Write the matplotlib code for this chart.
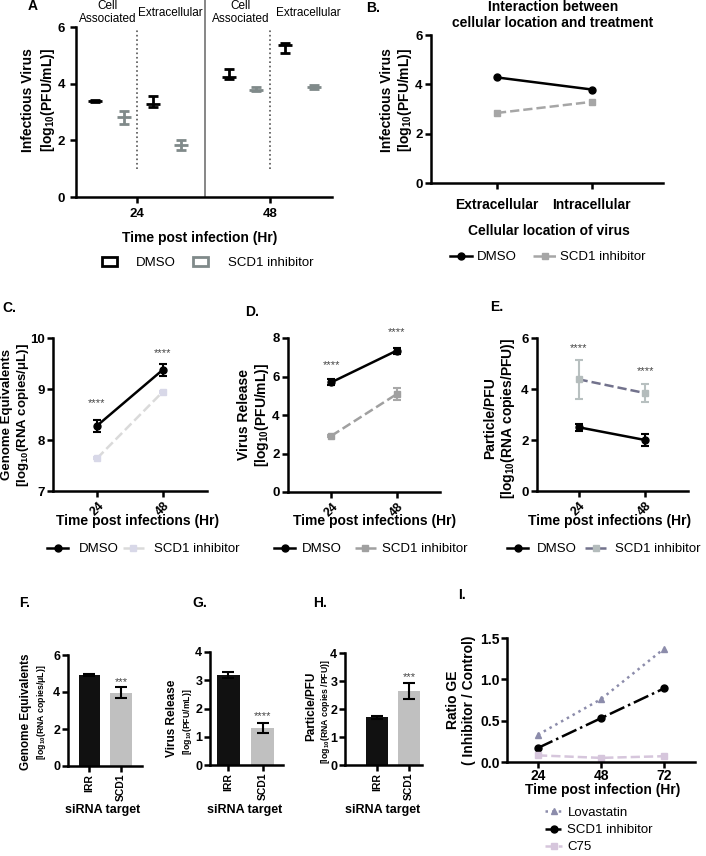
import matplotlib
matplotlib.use('Agg')
import matplotlib.pyplot as plt
from matplotlib.lines import Line2D
from matplotlib.patches import Patch

plt.rcParams['font.family'] = ['Liberation Sans', 'DejaVu Sans']
plt.rcParams['mathtext.fontset'] = 'custom'
plt.rcParams['mathtext.rm'] = 'Liberation Sans:bold'
plt.rcParams['mathtext.bf'] = 'Liberation Sans:bold'
plt.rcParams['mathtext.default'] = 'bf'

# ---------------- data ----------------
# A: infectious virus by location / time
a_headers = ['Cell\nAssociated', 'Extracellular', 'Cell\nAssociated', 'Extracellular']
a_header_x = [0.45, 2.6, 5.05, 7.4]
a_dmso_x = [0, 2, 4.65, 6.6]
a_scd1_x = [1, 3, 5.6, 7.6]
a_dmso = [3.40, 3.29, 4.22, 5.37]
a_dmso_lo = [3.35, 3.17, 4.17, 5.10]
a_dmso_hi = [3.42, 3.55, 4.52, 5.45]
a_scd1 = [2.82, 1.84, 3.78, 3.89]
a_scd1_lo = [2.56, 1.66, 3.73, 3.80]
a_scd1_hi = [3.05, 2.01, 3.88, 3.94]
a_time_x = [1.46, 6.08]
a_time_lab = ['24', '48']

# B: interaction plot
b_cats = ['Extracellular', 'Intracellular']
b_dmso = [4.28, 3.79]
b_scd1 = [2.84, 3.29]

# C-E: time courses
t_hr = [24, 48]
c_dmso, c_dmso_err = [8.28, 9.38], [0.12, 0.12]
c_scd1, c_scd1_err = [7.64, 8.95], [0.02, 0.02]
c_star_y = [8.73, 9.70]
d_dmso, d_dmso_err = [5.70, 7.34], [0.15, 0.15]
d_scd1, d_scd1_err = [2.92, 5.08], [0.05, 0.30]
d_star_y = [6.57, 8.30]
e_dmso, e_dmso_err = [2.50, 2.00], [0.13, 0.25]
e_scd1, e_scd1_err = [4.38, 3.84], [0.76, 0.34]
e_star_y = [5.60, 4.70]

# F-H: siRNA bars
si_cats = ['IRR', 'SCD1']
f_vals, f_err = [4.92, 3.97], [0.07, 0.32]
g_vals, g_err = [3.18, 1.30], [0.10, 0.17]
h_vals, h_err = [1.70, 2.64], [0.06, 0.28]
f_star, g_star, h_star = ('***', 4.56), ('****', 1.73), ('***', 3.13)

# I: ratio GE
i_hr = [24, 48, 72]
i_lova = [0.33, 0.76, 1.37]
i_scd1 = [0.17, 0.53, 0.89]
i_c75 = [0.08, 0.05, 0.07]

# ---------------- figure ----------------
W, H = 706, 856
fig = plt.figure(figsize=(W / 100, H / 100), dpi=100)


def add_ax(x0, y0, x1, y1):
    return fig.add_axes([x0 / W, 1 - y1 / H, (x1 - x0) / W, (y1 - y0) / H])


def ftext(x, y, s, **kw):
    kw.setdefault('ha', 'center')
    kw.setdefault('va', 'center')
    return fig.text(x / W, 1 - y / H, s, **kw)


def style(ax, fs=9.5, pad=2):
    for s in ['top', 'right']:
        ax.spines[s].set_visible(False)
    for s in ['left', 'bottom']:
        ax.spines[s].set_linewidth(1.8)
    ax.tick_params(direction='out', length=4, width=1.8, labelsize=fs, pad=pad)


def bold_ticks(ax):
    for t in ax.get_xticklabels() + ax.get_yticklabels():
        t.set_fontweight('bold')


def leg(handles, labels, x, y, ncol=2, loc='center left', **kw):
    fig.legend(handles, labels, loc=loc, bbox_to_anchor=(x / W, 1 - y / H),
               ncol=ncol, frameon=False, fontsize=9.5, borderaxespad=0,
               borderpad=0, **kw)


BF = dict(fontweight='bold', fontsize=10)
A_GRAY = '#808a8a'

# ---------------- A ----------------
axA = add_ax(76, 27, 332, 197)
style(axA, pad=4)
for xs, m, lo, hi, col in [(a_dmso_x, a_dmso, a_dmso_lo, a_dmso_hi, 'black'),
                           (a_scd1_x, a_scd1, a_scd1_lo, a_scd1_hi, A_GRAY)]:
    yerr = [[mm - l for mm, l in zip(m, lo)], [h - mm for mm, h in zip(m, hi)]]
    axA.errorbar(xs, m, yerr=yerr, fmt='_', ms=10, mew=2, capsize=3.5,
                 capthick=2, elinewidth=2, color=col, ls='none')
axA.set_xlim(-0.66, 8.23)
axA.set_ylim(0, 6)
axA.set_yticks([0, 2, 4, 6])
axA.set_xticks(a_time_x)
axA.set_xticklabels(a_time_lab)
bold_ticks(axA)
axA.plot([3.82, 3.82], [0, 6.95], color='#666666', lw=1.1, clip_on=False)
for xv in a_time_x:
    axA.plot([xv, xv], [1.0, 5.95], color='#555555', lw=1.2, ls=':', clip_on=False)
for xh, s in zip(a_header_x, a_headers):
    axA.text(xh, 6.5, s, ha='center', va='center', fontsize=8.5, clip_on=False,
             linespacing=1.1)
ftext(33, 6, 'A', **BF)
ftext(200, 238, 'Time post infection (Hr)', **BF)
ftext(39, 100, 'Infectious Virus\n[log$_{10}$(PFU/mL)]', rotation=90,
      linespacing=1.3, **BF)
leg([Patch(facecolor='white', edgecolor='black', lw=2),
     Patch(facecolor='white', edgecolor=A_GRAY, lw=2)],
    ['DMSO', 'SCD1 inhibitor'], 102, 263,
    handlelength=1.1, handleheight=0.75, handletextpad=1.5, columnspacing=1.3)

# ---------------- B ----------------
axB = add_ax(431, 35, 663, 183)
style(axB, pad=7)
axB.tick_params(axis='y', pad=2)
axB.plot([0, 1], b_dmso, 'o-', color='black', lw=1.8, ms=5)
axB.plot([0, 1], b_scd1, 's--', color='#a6a6a6', lw=1.8, ms=4.5)
axB.set_xlim(-0.695, 1.75)
axB.set_ylim(0, 6)
axB.set_yticks([0, 2, 4, 6])
axB.set_xticks([0, 1])
axB.set_xticklabels(b_cats)
bold_ticks(axB)
for t in axB.get_xticklabels():
    t.set_fontsize(10)
ftext(373, 8, 'B.', **BF)
ftext(553, 15, 'Interaction between\ncellular location and treatment',
      linespacing=1.15, **BF)
ftext(549, 231, 'Cellular location of virus', **BF)
ftext(397, 100, 'Infectious Virus\n[log$_{10}$(PFU/mL)]', rotation=90,
      linespacing=1.2, **BF)
leg([Line2D([], [], color='black', marker='o', lw=1.8, ms=5),
     Line2D([], [], color='#a6a6a6', marker='s', ls='--', lw=1.8, ms=4.5)],
    ['DMSO', 'SCD1 inhibitor'], 450, 257,
    handlelength=1.7, handletextpad=0.3, columnspacing=1.3)


# ---------------- C, D, E ----------------
def time_panel(box, xlim, ylim, yticks, dm, dm_e, sc, sc_e, stars,
               sc_line, sc_mark, sc_err):
    ax = add_ax(*box)
    style(ax, pad=2)
    ax.errorbar(t_hr, dm, yerr=dm_e, fmt='o-', color='black', lw=1.8, ms=5,
                capsize=3, capthick=1.5, elinewidth=1.5, zorder=4)
    ax.plot(t_hr, sc, ls='--', color=sc_line, lw=1.8, zorder=2)
    ax.errorbar(t_hr, sc, yerr=sc_e, fmt='s', color=sc_err, mfc=sc_mark,
                mec=sc_mark, ms=4.5, capsize=3, capthick=1.5, elinewidth=1.5,
                zorder=3)
    for xv, yv in zip(t_hr, stars):
        ax.text(xv, yv, '****', ha='center', va='center', fontsize=8,
                color='#444444', clip_on=False)
    ax.set_xlim(*xlim)
    ax.set_ylim(*ylim)
    ax.set_yticks(yticks)
    ax.set_xticks(t_hr)
    ax.set_xticklabels([str(t) for t in t_hr], rotation=45, fontsize=9)
    bold_ticks(ax)
    return ax


axC = time_panel((53, 338, 207, 491), (8, 64), (7, 10), [7, 8, 9, 10],
                 c_dmso, c_dmso_err, c_scd1, c_scd1_err, c_star_y,
                 '#dadada', '#d8d8e8', '#d8d8e8')
axD = time_panel((288, 338, 440, 492), (8, 64), (0, 8), [0, 2, 4, 6, 8],
                 d_dmso, d_dmso_err, d_scd1, d_scd1_err, d_star_y,
                 '#a0a0a0', '#a0a0a0', '#a8a8a8')
axE = time_panel((537, 338, 688, 491), (9, 63.5), (0, 6), [0, 2, 4, 6],
                 e_dmso, e_dmso_err, e_scd1, e_scd1_err, e_star_y,
                 '#72728c', '#b4bcbc', '#b8c0c0')

ftext(9, 308, 'C.', **BF)
ftext(252, 312, 'D.', **BF)
ftext(497, 307, 'E.', **BF)
ftext(16, 415, 'Genome Equivalents\n[log$_{10}$(RNA copies/μL)]', rotation=90,
      linespacing=1.15, fontweight='bold', fontsize=9.5)
ftext(254, 415, 'Virus Release\n[log$_{10}$(PFU/mL)]', rotation=90,
      linespacing=1.15, **BF)
ftext(500, 418, 'Particle/PFU\n[log$_{10}$(RNA copies/PFU)]', rotation=90,
      linespacing=1.15, **BF)
for xc in [138, 375, 610]:
    ftext(xc, 521, 'Time post infections (Hr)', **BF)
for xl, ln, mk, pad_, cs in [(47, '#dadada', '#d8d8e8', 0.8, 0.3),
                             (274, '#a0a0a0', '#a0a0a0', 0.5, 1.0),
                             (507, '#72728c', '#b4bcbc', 0.7, 0.6)]:
    leg([Line2D([], [], color='black', marker='o', lw=1.8, ms=5),
         Line2D([], [], color=ln, marker='s', mfc=mk, mec=mk, ls='--', lw=1.8,
                ms=4.5)],
        ['DMSO', 'SCD1 inhibitor'], xl, 549,
        handlelength=1.6, handletextpad=pad_, columnspacing=cs)


# ---------------- F, G, H ----------------
def bar_panel(box, xlim, ylim, yticks, vals, err, star):
    ax = add_ax(*box)
    style(ax, fs=9, pad=1.5)
    ax.bar([0, 1], vals, width=0.68, color=['#111111', '#c0c0c0'], zorder=2)
    ax.errorbar([0, 1], vals, yerr=err, fmt='none', ecolor='black',
                elinewidth=1.5, capsize=4, capthick=1.5, zorder=3)
    ax.text(1, star[1], star[0], ha='center', va='center', fontsize=8,
            color='#444444', clip_on=False)
    ax.set_xlim(*xlim)
    ax.set_ylim(*ylim)
    ax.set_yticks(yticks)
    ax.set_xticks([0, 1])
    ax.set_xticklabels(si_cats, rotation=90, fontsize=7.5)
    bold_ticks(ax)
    return ax


axF = bar_panel((68, 655, 142, 766), (-0.68, 1.67), (0, 6), [0, 2, 4, 6],
                f_vals, f_err, f_star)
axG = bar_panel((210, 652, 283, 765), (-0.54, 1.6), (0, 4), [0, 1, 2, 3, 4],
                g_vals, g_err, g_star)
axH = bar_panel((345, 653, 422, 765), (-1.0, 1.4), (0, 4), [0, 1, 2, 3, 4],
                h_vals, h_err, h_star)
ftext(25, 603, 'F.', **BF)
ftext(200, 603, 'G.', **BF)
ftext(320, 603, 'H.', **BF)
ftext(26, 712, 'Genome Equivalents', rotation=90, fontweight='bold', fontsize=8.5)
ftext(41, 712, '[log$_{10}$(RNA copies/μL)]', rotation=90, fontweight='bold',
      fontsize=6.3)
ftext(172, 718, 'Virus Release', rotation=90, fontweight='bold', fontsize=8.5)
ftext(187, 722, '[log$_{10}$(PFU/mL)]', rotation=90, fontweight='bold',
      fontsize=6.3)
ftext(311, 706, 'Particle/PFU', rotation=90, fontweight='bold', fontsize=8.5)
ftext(325, 712, '[log$_{10}$(RNA copies /PFU)]', rotation=90,
      fontweight='bold', fontsize=6.3)
for xc in [103, 245, 383]:
    ftext(xc, 810, 'siRNA target', fontweight='bold', fontsize=9)

# ---------------- I ----------------
axI = add_ax(507, 638, 695, 762)
style(axI, pad=1)
l1, = axI.plot(i_hr, i_lova, ls=':', marker='^', color='#8c8cab', lw=1.8, ms=5)
l2, = axI.plot(i_hr, i_scd1, ls='-.', marker='o', color='black', lw=1.8, ms=5)
l3, = axI.plot(i_hr, i_c75, ls='--', marker='s', color='#d6c6dc', lw=1.8, ms=4.5)
axI.set_xlim(12.2, 83.8)
axI.set_ylim(0, 1.5)
axI.set_yticks([0, 0.5, 1.0, 1.5])
axI.set_yticklabels(['0.0', '0.5', '1.0', '1.5'])
axI.set_xticks(i_hr)
axI.set_xticklabels([str(t) for t in i_hr])
bold_ticks(axI)
for t in axI.get_xticklabels() + axI.get_yticklabels():
    t.set_fontsize(10)
ftext(462, 595, 'I.', **BF)
ftext(603, 790, 'Time post infection (Hr)', **BF)
ftext(461, 700, 'Ratio GE\n( Inhibitor / Control)', rotation=90,
      linespacing=1.2, **BF)
leg([l1, l2, l3], ['Lovastatin', 'SCD1 inhibitor', 'C75'], 545, 830, ncol=1,
    handlelength=1.3, handletextpad=0.4, labelspacing=0.38)

fig.savefig('out.png', dpi=100)
